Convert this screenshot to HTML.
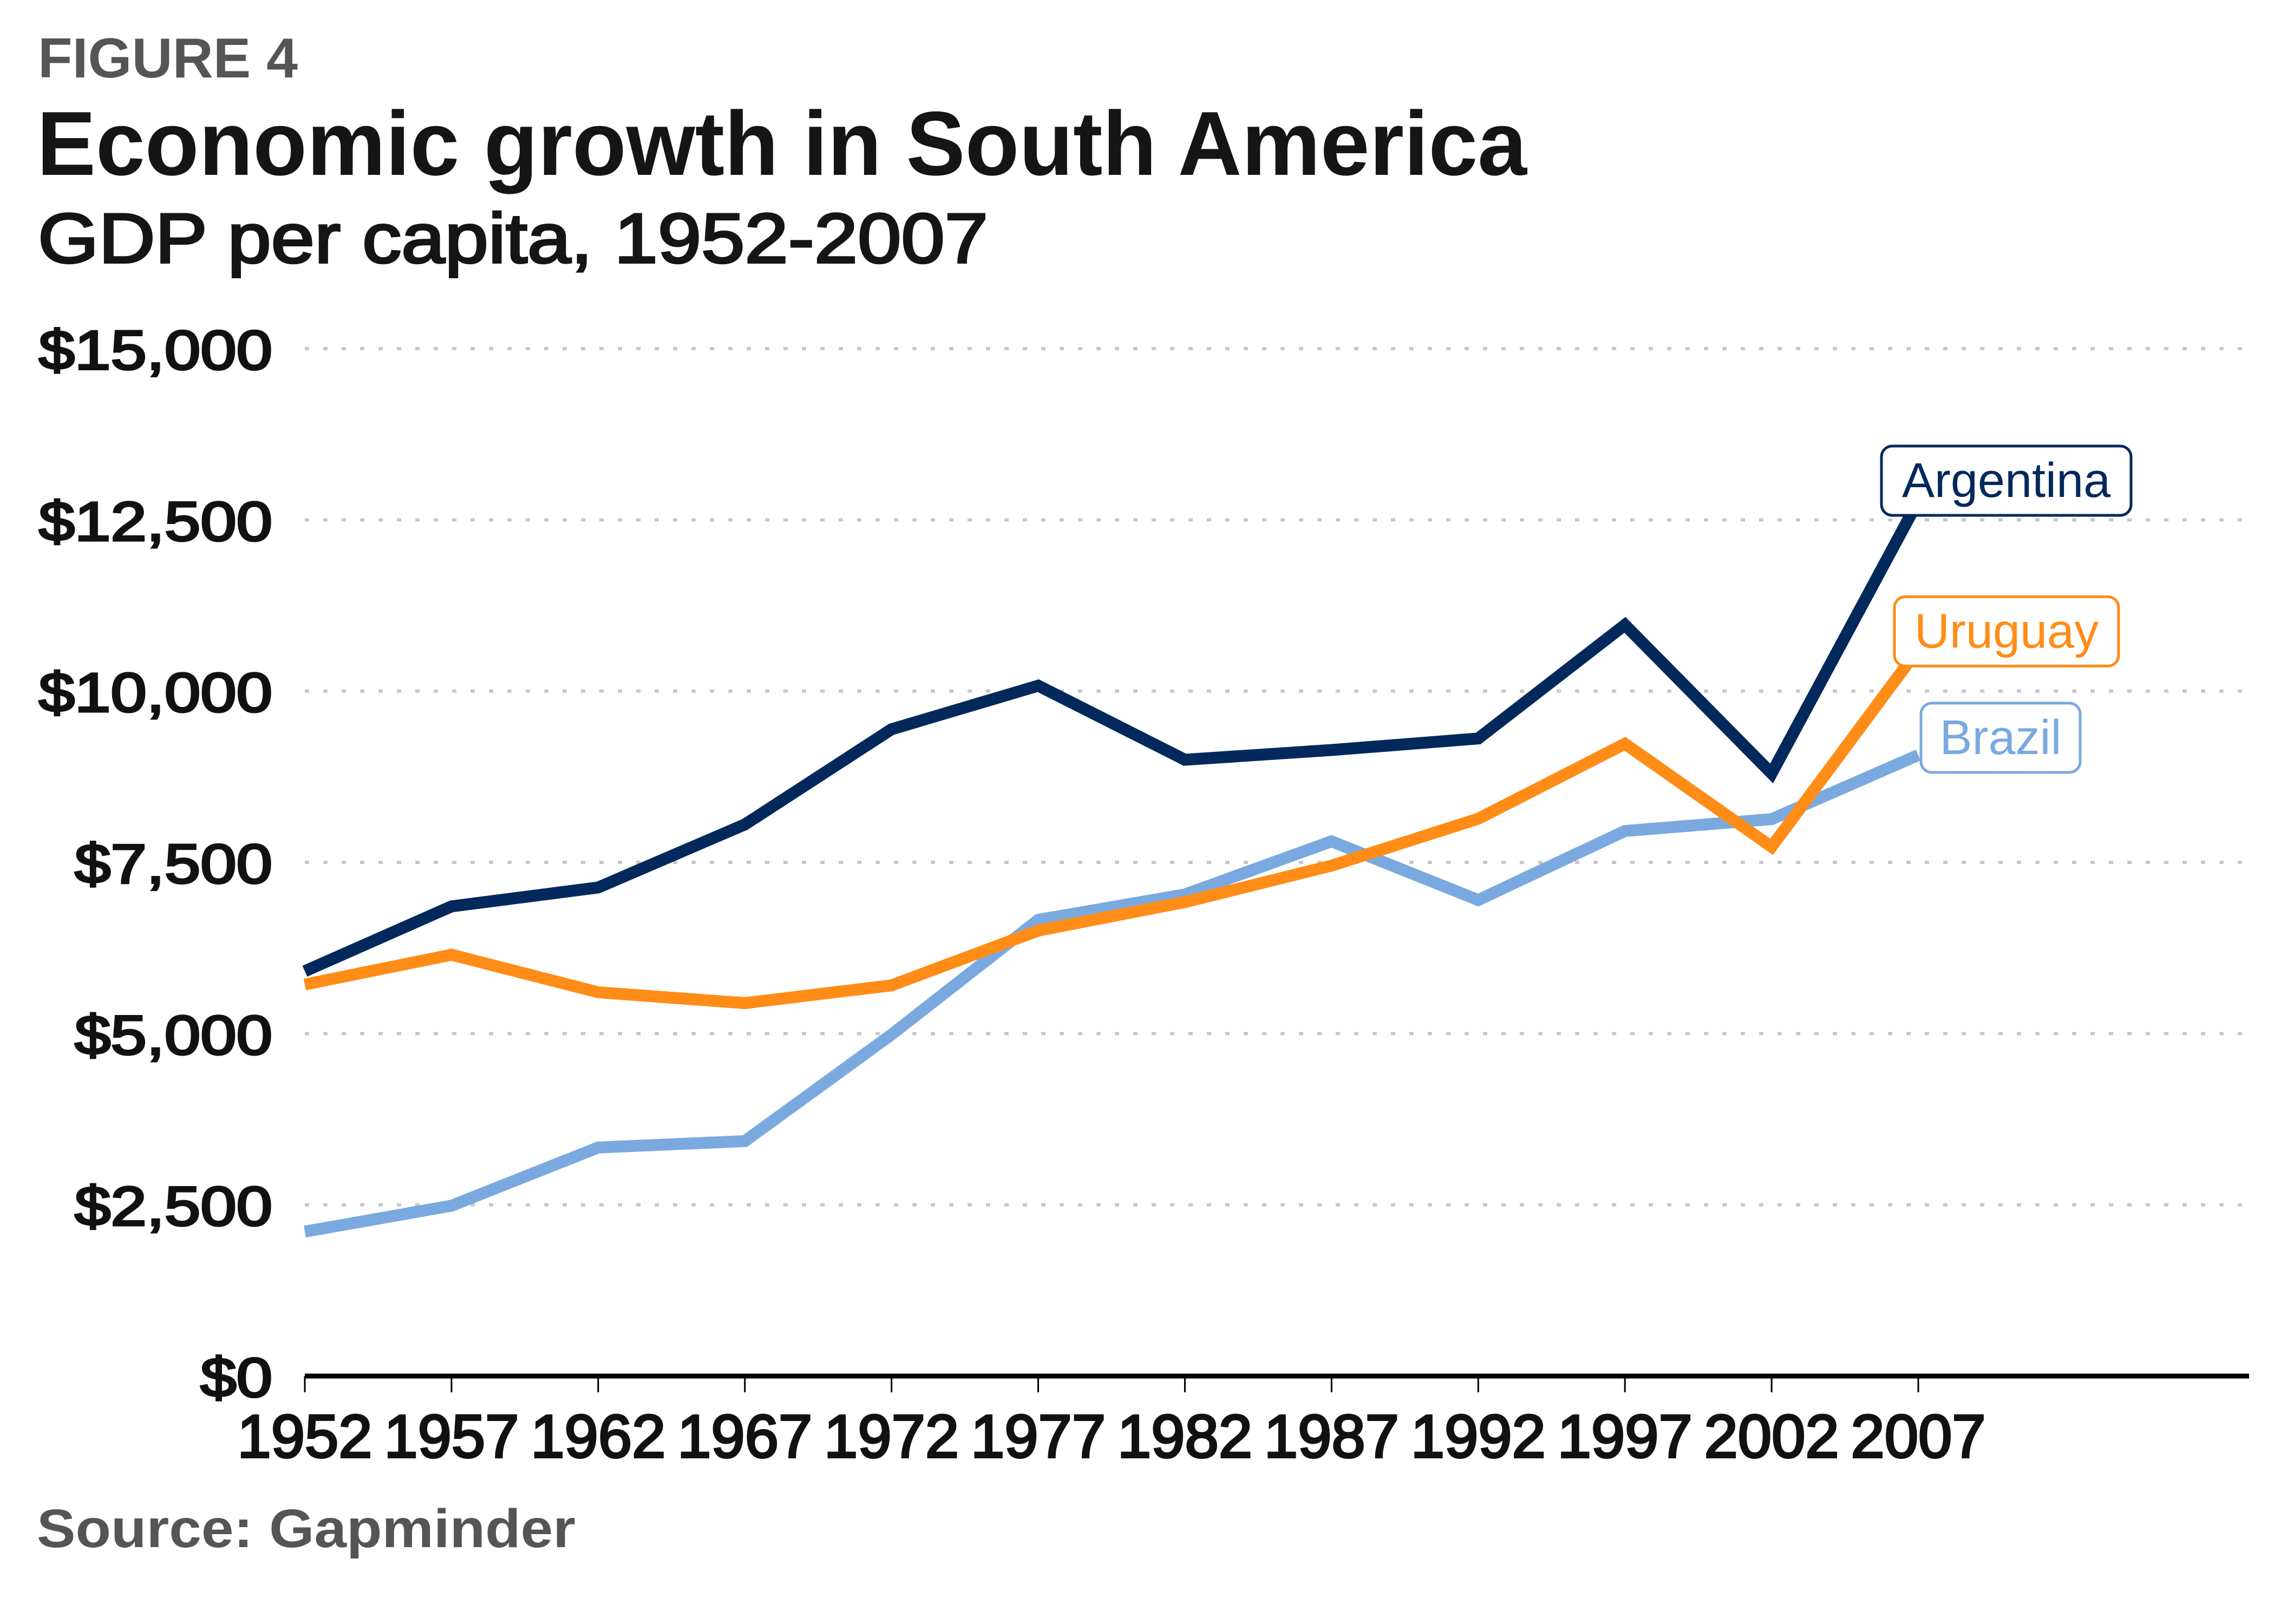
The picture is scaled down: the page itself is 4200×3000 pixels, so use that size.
<!DOCTYPE html>
<html><head><meta charset="utf-8"><style>
html,body{margin:0;padding:0;background:#fff;}
svg{display:block;font-family:"Liberation Sans",Arial,sans-serif;}
</style></head><body>
<svg id="chart" width="4200" height="3000" viewBox="0 0 4200 3000" xmlns="http://www.w3.org/2000/svg">
<text x="70" y="143" font-size="104" font-weight="bold" fill="#555555" textLength="480" lengthAdjust="spacingAndGlyphs">FIGURE 4</text>
<text x="68" y="323" font-size="168" font-weight="bold" fill="#151515" textLength="2752" lengthAdjust="spacingAndGlyphs">Economic growth in South America</text>
<text x="70" y="485" font-size="130" fill="#151515" stroke="#151515" stroke-width="4" textLength="1755" lengthAdjust="spacingAndGlyphs">GDP per capita, 1952-2007</text>
<g id="grid"></g>
<g id="yticks"></g>
<g id="xaxis"></g>
<g id="lines"></g>
<g id="labels"></g>
<text x="68" y="2858" font-size="100" font-weight="bold" fill="#555555" textLength="995" lengthAdjust="spacingAndGlyphs">Source: Gapminder</text>
</svg>
<script>
const years = [1952,1957,1962,1967,1972,1977,1982,1987,1992,1997,2002,2007];
const argentina = [5911,6857,7133,8053,9443,10079,8998,9140,9308,10967,8798,12779];
const uruguay = [5717,6151,5603,5445,5704,6504,6920,7452,8137,9231,7727,10611];
const brazil = [2109,2487,3337,3430,4986,6660,7031,7807,6950,7958,8131,9066];
const yTicks = [0,2500,5000,7500,10000,12500,15000];
const yTickLabels = ["$0","$2,500","$5,000","$7,500","$10,000","$12,500","$15,000"];

const NS = "http://www.w3.org/2000/svg";
const X0 = 563, X1 = 3543, Y0 = 2542, Y1 = 644;
function xScale(yr){ return X0 + (yr - years[0]) / (years[years.length-1] - years[0]) * (X1 - X0); }
function yScale(v){ return Y0 - v / 15000 * (Y0 - Y1); }
function mk(tag, attrs, parent){ const e = document.createElementNS(NS, tag); for (const k in attrs) e.setAttribute(k, attrs[k]); parent.appendChild(e); return e; }

const grid = document.getElementById('grid');
const yt = document.getElementById('yticks');
yTicks.forEach((v, i) => {
  const y = yScale(v);
  if (v > 0) {
    const g = mk('line', {x1: X0, x2: 4145, y1: y, y2: y, stroke: '#c8c8c8', 'stroke-width': 6, 'stroke-dasharray': '8 26'}, grid);
    
    
  }
  const t = mk('text', {x: 503, y: y + 38, 'font-size': 102, 'text-anchor': 'end', fill: '#111', stroke: '#111', 'stroke-width': 4}, yt);
  t.textContent = yTickLabels[i];
  
  
  const w = t.getComputedTextLength();
  t.setAttribute('textLength', w * 1.17);
  t.setAttribute('lengthAdjust', 'spacingAndGlyphs');
});

const xa = document.getElementById('xaxis');
const base = mk('line', {x1: X0, x2: 4154, y1: Y0, y2: Y0, stroke: '#000', 'stroke-width': 9}, xa);


years.forEach(yr => {
  const x = xScale(yr);
  const tk = mk('line', {x1: x, x2: x, y1: Y0, y2: Y0 + 30, stroke: '#000', 'stroke-width': 3}, xa);
  
  
  const t = mk('text', {x: x, y: 2692, 'font-size': 112, 'text-anchor': 'middle', fill: '#111', stroke: '#111', 'stroke-width': 4}, xa);
  t.textContent = String(yr);
  
  
});

const series = [
  {name: 'Brazil', vals: brazil, color: '#7aa9e0', dx: 5, dy: -96, w: 294},
  {name: 'Uruguay', vals: uruguay, color: '#ff8c17', dx: -44, dy: -97, w: 414},
  {name: 'Argentina', vals: argentina, color: '#03295c', dx: -68, dy: -101, w: 461}
];
const lines = document.getElementById('lines');
const labels = document.getElementById('labels');
series.forEach(s => {
  const pts = s.vals.map((v, i) => xScale(years[i]) + ',' + yScale(v)).join(' ');
  const pl = mk('polyline', {points: pts, fill: 'none', stroke: s.color, 'stroke-width': 22, 'stroke-linejoin': 'miter'}, lines);
  
  
});
series.forEach(s => {
  const ex = xScale(years[years.length-1]), ey = yScale(s.vals[s.vals.length-1]);
  const bx = ex + s.dx, by = ey + s.dy;
  const r = mk('rect', {x: bx, y: by, width: s.w, height: 128, rx: 20, fill: '#fff', stroke: s.color, 'stroke-width': 5}, labels);
  
  
  const t = mk('text', {x: bx + s.w / 2, y: by + 94, 'font-size': 90, 'text-anchor': 'middle', fill: s.color}, labels);
  t.textContent = s.name;
  
  
});
</script>
</body></html>
